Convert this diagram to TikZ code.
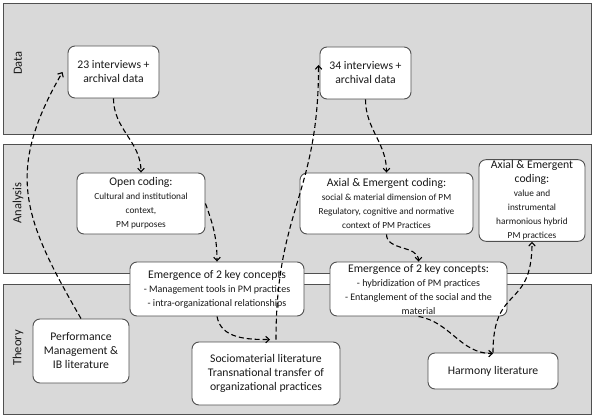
\documentclass[tikz,border=0pt]{standalone}
\usepackage{fontspec}
\setmainfont{Carlito}
\usetikzlibrary{arrows.meta}

\definecolor{bandgray}{RGB}{217,217,217}
\definecolor{linegray}{RGB}{80,80,80}
\definecolor{textgray}{RGB}{25,25,25}
\newcommand{\hdsize}{\fontsize{11.7}{14}\selectfont}
\newcommand{\subsize}{\fontsize{9.3}{12}\selectfont}
\newcommand{\emsize}{\fontsize{10}{13}\selectfont}

\begin{document}
\begin{tikzpicture}[x=1pt,y=1pt,
    main node/.style={draw=linegray,fill=white,line width=0.9pt,rounded corners=7pt,
        align=center,inner sep=1pt,text=textgray,font=\hdsize},
    band/.style={draw=linegray,fill=bandgray,line width=0.8pt},
    band label/.style={rotate=90,text=textgray,font=\fontsize{12.5}{14}\selectfont},
    link/.style={->,>={Straight Barb[length=3.5pt,width=6.5pt]},line width=1.1pt,
        dash pattern=on 5pt off 3pt}]

        \useasboundingbox (0,0) rectangle (596,418);

        % Bands
        \draw[band] (3,284) rectangle (591,415);
        \draw[band] (3,145) rectangle (591,274);
        \draw[band] (3,4) rectangle (591,134);
        \node[band label] (ldata) at (18,355) {Data};
        \node[band label] (lanalysis) at (18,215) {Analysis};
        \node[band label] (ltheory) at (18,70) {Theory};

        % Define vertices
        \node[main node,minimum width=91pt,minimum height=52pt] (d1) at (113.5,346)
            {23 interviews +\\archival data};
        \node[main node,minimum width=91pt,minimum height=52pt] (d2) at (365.5,345)
            {34 interviews +\\archival data};
        \node[main node,minimum width=128pt,minimum height=61pt] (a1) at (141,214.5)
            {Open coding:\\\subsize Cultural and institutional\\\subsize context,\\\subsize PM purposes};
        \node[main node,minimum width=173pt,minimum height=61pt] (a2) at (386.5,214.5)
            {Axial \& Emergent coding:\\\subsize social \& material dimension of PM\\\subsize Regulatory, cognitive and normative\\\subsize context of PM Practices};
        \node[main node,minimum width=106pt,minimum height=79pt] (a3) at (532,217.5)
            {Axial \& Emergent\\coding:\\\subsize value and\\\subsize instrumental\\\subsize harmonious hybrid\\\subsize PM practices};
        \node[main node,minimum width=174pt,minimum height=54pt] (e1) at (217,129)
            {Emergence of 2 key concepts\\\emsize - Management tools in PM practices\\\emsize - intra-organizational relationships};
        \node[main node,minimum width=177pt,minimum height=54pt] (e2) at (418.5,129)
            {Emergence of 2 key concepts:\\\emsize - hybridization of PM practices\\\emsize - Entanglement of the social and the\\\emsize material};
        \node[main node,minimum width=96pt,minimum height=64pt] (t1) at (81,67)
            {Performance\\Management \&\\IB literature};
        \node[main node,minimum width=148pt,minimum height=63pt] (t2) at (266,44.5)
            {Sociomaterial literature\\Transnational transfer of\\organizational practices};
        \node[main node,minimum width=130pt,minimum height=36pt] (t3) at (493,47)
            {Harmony literature};

        % Draw edges
        \path[link]
            (t1.north) edge[out=120,in=240,looseness=1.2] ([xshift=-5pt]d1.west)
            (d1.south) edge[out=-90,in=90] (a1.north)
            (a1.east) edge[out=-70,in=90] (e1.north)
            (e1.south) edge[out=-80,in=180] ([xshift=4pt,yshift=2pt]t2.north)
            ([xshift=10pt,yshift=2pt]t2.north) edge[out=90,in=-90,looseness=1.2] ([xshift=-1pt,yshift=8pt]d2.west)
            (d2.south) edge[out=-90,in=90] (a2.north)
            (a2.south) edge[out=-90,in=90] (e2.north)
            (e2.south) edge[out=-10,in=180] ([yshift=-1pt]t3.north)
            (t3.north) edge[out=90,in=-90,looseness=1.5] (a3.south);

        \end{tikzpicture}
\end{document}
